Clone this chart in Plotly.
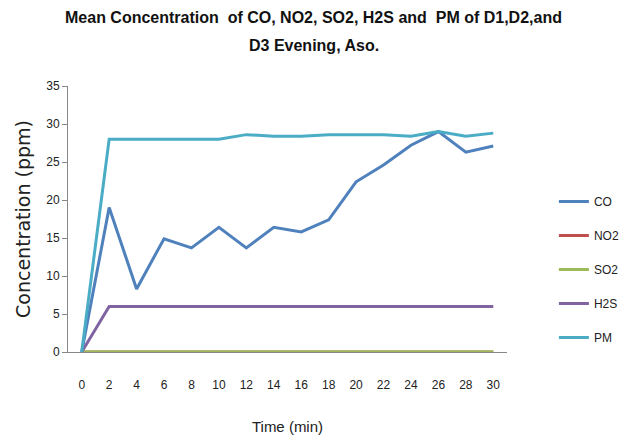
import plotly.graph_objects as go

times = ["0", "2", "4", "6", "8", "10", "12", "14", "16", "18", "20", "22", "24", "26", "28", "30"]
co = [0, 19.0, 8.3, 14.9, 13.7, 16.4, 13.7, 16.4, 15.8, 17.4, 22.4, 24.6, 27.2, 29.0, 26.3, 27.1]
no2 = [0] * 16
so2 = [0] * 16
h2s = [0, 6, 6, 6, 6, 6, 6, 6, 6, 6, 6, 6, 6, 6, 6, 6]
pm = [0, 28.0, 28.0, 28.0, 28.0, 28.0, 28.6, 28.4, 28.4, 28.6, 28.6, 28.6, 28.4, 29.0, 28.4, 28.8]

series = [("CO", co, "#4F81BD"), ("NO2", no2, "#C0504D"), ("SO2", so2, "#9BBB59"),
          ("H2S", h2s, "#8064A2"), ("PM", pm, "#4BACC6")]

narrow = "Liberation Sans Narrow, Arial Narrow, Liberation Sans, sans-serif"

fig = go.Figure()
for i, (name, vals, color) in enumerate(series):
    fig.add_trace(go.Scatter(x=times, y=vals, name=name, mode="lines",
                             line=dict(color=color, width=3), legendgroup=str(i)))

title_font = dict(family=narrow, size=16, color="#111111")
fig.add_annotation(text="<b>Mean Concentration  of CO, NO2, SO2, H2S and  PM of D1,D2,and</b>",
                   xref="paper", yref="paper", x=-0.155 + 0.5 * (628 / 439), xanchor="center",
                   y=1 + (86 - 18) / 266, yanchor="middle", showarrow=False, font=title_font)
fig.add_annotation(text="<b>D3 Evening, Aso.</b>",
                   xref="paper", yref="paper", x=-0.155 + 0.5 * (628 / 439), xanchor="center",
                   y=1 + (86 - 45) / 266, yanchor="middle", showarrow=False, font=title_font)

fig.update_layout(
    width=628, height=441,
    margin=dict(l=68, r=121, t=86, b=89),
    plot_bgcolor="white", paper_bgcolor="white",
    showlegend=True,
    legend=dict(xref="container", yref="container", x=0.882, xanchor="left", y=0.576, yanchor="top",
                tracegroupgap=15, itemwidth=30,
                font=dict(family=narrow, size=12, color="#222222"), bgcolor="rgba(0,0,0,0)"),
    xaxis=dict(type="category", range=[-0.5, 15.5], showline=True, linecolor="#888888", linewidth=1,
               ticks="", showgrid=False, ticklabelstandoff=22, automargin=False,
               tickfont=dict(family=narrow, size=12, color="#222222"),
               title=dict(text="Time (min)", font=dict(family=narrow, size=15, color="#222222"), standoff=30)),
    yaxis=dict(range=[0, 35], dtick=5, showline=True, linecolor="#888888", linewidth=1,
               ticks="outside", ticklen=5, tickcolor="#888888", showgrid=False, zeroline=False,
               automargin=False,
               tickfont=dict(family=narrow, size=12, color="#222222"),
               title=dict(text="Concentration (ppm)", font=dict(family="DejaVu Sans, Verdana, sans-serif", size=19, color="#222222"), standoff=10)),
)

fig.write_html("out.html")
